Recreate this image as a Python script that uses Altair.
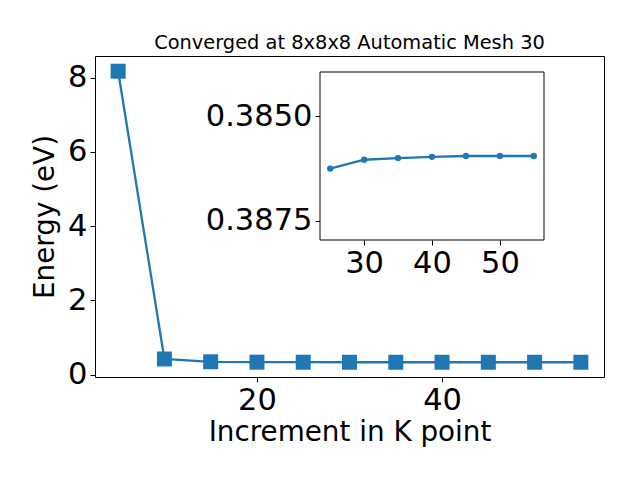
import altair as alt
import pandas as pd

# ---- data ----
k_main = [5, 10, 15, 20, 25, 30, 35, 40, 45, 50, 55]
e_main = [8.17, 0.42, 0.345, 0.335, 0.333, 0.332, 0.332, 0.332, 0.332, 0.332, 0.332]
k_inset = [25, 30, 35, 40, 45, 50, 55]
e_inset = [0.38625, 0.38604, 0.38600, 0.38597, 0.38595, 0.38595, 0.38595]
x_ticks_main = [20, 40]
y_ticks_main = [0, 2, 4, 6, 8]
x_ticks_inset = [30, 40, 50]
y_ticks_inset = [0.3850, 0.3875]
x_domain_main = [2.5, 57.5]
y_domain_main = [-0.065, 8.58]
x_domain_inset = [23.5, 56.5]
y_domain_inset = [0.38394, 0.38796]   # drawn inverted (small values at top)
title_text = "Converged at 8x8x8 Automatic Mesh 30"
x_title = "Increment in K point"
y_title = "Energy (eV)"

BLUE = "#1f77b4"
FONT = "DejaVu Sans"
W, H = 509, 321
INSET_X = [225, 449]
INSET_Y = [16, 184]

main_df = pd.DataFrame({"k": k_main, "e": e_main})
inset_df = pd.DataFrame({"k": k_inset, "e": e_inset})
frame_df = pd.DataFrame({"x0": [x_domain_inset[0]], "x1": [x_domain_inset[1]],
                         "y0": [y_domain_inset[0]], "y1": [y_domain_inset[1]]})

# ---- main panel ----
xs = alt.Scale(domain=x_domain_main, nice=False, zero=False)
ys = alt.Scale(domain=y_domain_main, nice=False, zero=False)
xa = alt.Axis(values=x_ticks_main, title=x_title, domain=False, titlePadding=3)
ya = alt.Axis(values=y_ticks_main, title=y_title, domain=False, titlePadding=8)

m_line = alt.Chart(main_df).mark_line(color=BLUE, strokeWidth=2.3).encode(
    x=alt.X("k:Q", scale=xs, axis=xa), y=alt.Y("e:Q", scale=ys, axis=ya))
m_pts = alt.Chart(main_df).mark_square(color=BLUE, size=225, opacity=1, filled=True).encode(
    x=alt.X("k:Q", scale=xs, axis=xa), y=alt.Y("e:Q", scale=ys, axis=ya))
main = alt.layer(m_line, m_pts)

# ---- inset panel ----
ixs = alt.Scale(domain=x_domain_inset, range=INSET_X, nice=False, zero=False)
iys = alt.Scale(domain=y_domain_inset, range=INSET_Y, nice=False, zero=False)
ixa = alt.Axis(values=x_ticks_inset, orient="bottom", offset=-(H - INSET_Y[1]),
               title=None, domain=False, format="d")
iya = alt.Axis(values=y_ticks_inset, orient="left", offset=-INSET_X[0],
               title=None, domain=False, format=".4f")

i_frame = alt.Chart(frame_df).mark_rect(fill="white", stroke="black", strokeWidth=1).encode(
    x=alt.X("x0:Q", scale=ixs, axis=ixa), x2="x1",
    y=alt.Y("y0:Q", scale=iys, axis=iya), y2="y1")
i_line = alt.Chart(inset_df).mark_line(color=BLUE, strokeWidth=2.3).encode(
    x=alt.X("k:Q", scale=ixs, axis=ixa), y=alt.Y("e:Q", scale=iys, axis=iya))
i_pts = alt.Chart(inset_df).mark_circle(color=BLUE, size=40, opacity=1).encode(
    x=alt.X("k:Q", scale=ixs, axis=ixa), y=alt.Y("e:Q", scale=iys, axis=iya))
inset = alt.layer(i_frame, i_line, i_pts)

chart = (
    alt.layer(main, inset)
    .resolve_scale(x="independent", y="independent")
    .resolve_axis(x="independent", y="independent")
    .properties(
        width=W, height=H,
        title=alt.Title(title_text, font=FONT, fontSize=19.4, fontWeight="normal",
                        color="black", anchor="middle", baseline="alphabetic", offset=-12),
        padding={"left": 87, "top": 48, "right": 28, "bottom": 95},
        autosize=alt.AutoSizeParams(type="none"),
    )
    .configure_view(stroke="black", strokeWidth=1)
    .configure_axis(grid=False, labelFont=FONT, labelFontSize=30.5, labelColor="black",
                    tickColor="black", tickSize=5, tickWidth=1, labelPadding=3,
                    titleFont=FONT, titleFontSize=27.8, titleFontWeight="normal",
                    titleColor="black")
)

chart.save("out.html", embed_options={"renderer": "svg", "actions": False})
